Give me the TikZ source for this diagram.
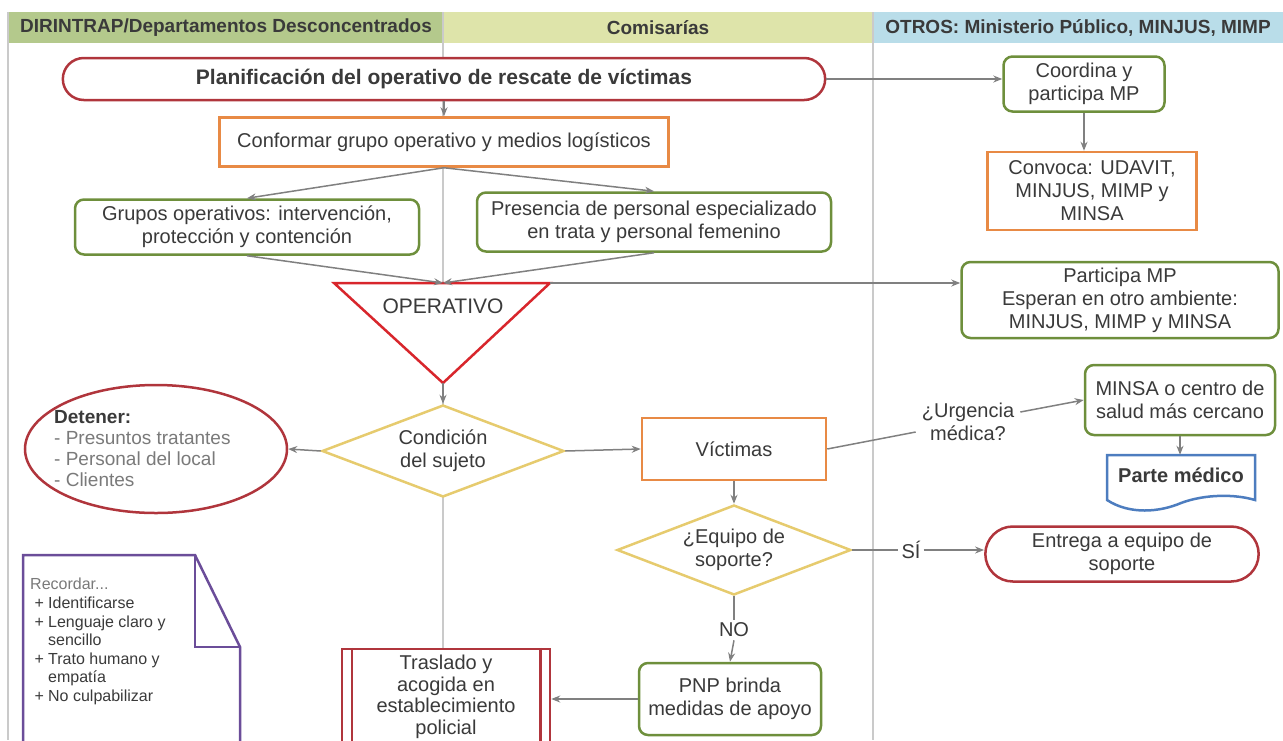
\documentclass[tikz,border=0pt]{standalone}
\usepackage{fontspec}
\setmainfont{Liberation Sans}
\usetikzlibrary{arrows.meta, shapes.geometric, shapes.misc, calc}
\definecolor{txtgrey}{HTML}{3A3A3A}
\definecolor{softgrey}{HTML}{7A7A7A}
\definecolor{linegrey}{HTML}{808080}
\definecolor{lanegrey}{HTML}{CACACA}
\definecolor{hdrgreen}{HTML}{B4C98C}
\definecolor{hdryellow}{HTML}{DEE4AA}
\definecolor{hdrblue}{HTML}{B9DDE9}
\definecolor{darkred}{HTML}{B0353C}
\definecolor{brightred}{HTML}{D8262C}
\definecolor{boxorange}{HTML}{E88A45}
\definecolor{boxgreen}{HTML}{6E8F3C}
\definecolor{dyellow}{HTML}{E6CB6E}
\definecolor{docblue}{HTML}{4D7DBF}
\definecolor{notepurple}{HTML}{6B4D99}
\tikzset{
  every node/.append style={text=txtgrey, font=\fontsize{20}{23}\selectfont, align=center},
  conn/.style={-{Stealth[length=9pt, width=7pt]}, line width=1.5pt, color=linegrey},
  plainconn/.style={line width=1.5pt, color=linegrey},
  lane/.style={line width=1.5pt, color=lanegrey},
  hdr/.style={font=\bfseries\fontsize{19}{22}\selectfont},
  stadium/.style={rounded rectangle, draw=darkred, line width=2.5pt, fill=white},
  orangebox/.style={rectangle, draw=boxorange, line width=2.5pt, fill=white},
  greenbox/.style={rectangle, rounded corners=9pt, draw=boxgreen, line width=2.5pt, fill=white},
  decision/.style={diamond, aspect=2.6, draw=dyellow, line width=2.5pt, fill=white, inner sep=0pt}
}

\begin{document}
\begin{tikzpicture}[x=1pt, y=-1pt]
\useasboundingbox (0,0) rectangle (1283,740);
% lane headers
\fill[hdrgreen] (8,12) rectangle (443,43);
\fill[hdryellow] (443,12) rectangle (873,43);
\fill[hdrblue] (873,12) rectangle (1283,43);
\node[hdr] (hleft) at (226,28) {DIRINTRAP/Departamentos Desconcentrados};
\node[hdr] (hmid) at (658,28) {Comisarías};
\node[hdr] (hright) at (1078,28) {OTROS: Ministerio Público, MINJUS, MIMP};
\draw[lane] (8,12) -- (8,740);
\draw[lane] (443,12) -- (443,740);
\draw[lane] (873,12) -- (873,740);

% top part
\node[stadium, minimum width=769pt, minimum height=42pt, font=\bfseries\fontsize{21}{24}\selectfont] (plan) at (444,79) {Planificación del operativo de rescate de víctimas};
\node[orangebox, minimum width=449pt, minimum height=49pt] (conf) at (444,142) {Conformar grupo operativo y medios logísticos};
\node[greenbox, minimum width=344pt, minimum height=55pt] (grupos) at (247,227) {Grupos operativos: intervención,\\protección y contención};
\node[greenbox, minimum width=354pt, minimum height=59pt] (pres) at (654,222) {Presencia de personal especializado\\en trata y personal femenino};
\node[greenbox, minimum width=161pt, minimum height=55pt] (coord) at (1084,84) {Coordina y\\participa MP};
\node[orangebox, minimum width=209pt, minimum height=78pt] (conv) at (1092,191) {Convoca: UDAVIT,\\MINJUS, MIMP y\\MINSA};
\node[greenbox, minimum width=317pt, minimum height=76pt] (part) at (1120,300) {Participa MP\\Esperan en otro ambiente:\\MINJUS, MIMP y MINSA};

% operativo
\coordinate (opl) at (334,283);
\coordinate (opr) at (550,283);
\coordinate (opt) at (443,283);
\coordinate (opb) at (443,383);
\draw[draw=brightred, line width=2.5pt, fill=white] (opl) -- (opr) -- (opb) -- cycle;
\node[font=\fontsize{21}{24}\selectfont] (optxt) at (443,306) {OPERATIVO};

% middle part
\node[decision, minimum width=242pt, minimum height=92pt] (cond) at (443,451) {Condición\\del sujeto};
\node[ellipse, draw=darkred, line width=2.5pt, fill=white, minimum width=262pt, minimum height=128pt] (det) at (156,449) {};
\node[anchor=west, align=left, inner sep=0pt, font=\fontsize{19}{21}\selectfont, text=softgrey] (dettxt) at (54,449)
  {\textcolor{txtgrey}{\textbf{Detener:}}\\- Presuntos tratantes\\- Personal del local\\- Clientes};
\node[orangebox, minimum width=184pt, minimum height=62pt] (vict) at (734,449) {Víctimas};
\node[inner sep=6pt] (urg) at (968,422) {¿Urgencia\\médica?};
\node[greenbox, minimum width=190pt, minimum height=70pt] (minsa) at (1180,400) {MINSA o centro de\\salud más cercano};
\draw[docblue, line width=2.5pt, fill=white] (1107,455) -- (1255,455) -- (1255,500)
  .. controls (1235,494) and (1205,494) .. (1181,503)
  .. controls (1160,512) and (1130,515) .. (1107,500) -- cycle;
\node[font=\bfseries\fontsize{20}{23}\selectfont, minimum width=148pt, minimum height=40pt, inner sep=0pt] (pm) at (1181,475) {Parte médico};

% bottom part
\node[decision, minimum width=234pt, minimum height=90pt] (equipo) at (734,550) {¿Equipo de\\soporte?};
\node[stadium, minimum width=280pt, minimum height=55pt] (entr) at (1122,554) {Entrega a equipo de\\soporte};
\node[fill=white, inner sep=3pt] (si) at (911,550) {SÍ};
\node[fill=white, inner sep=3pt] (no) at (734,630) {NO};
\node[greenbox, minimum width=182pt, minimum height=72pt] (pnp) at (730,699) {PNP brinda\\medidas de apoyo};
\node[rectangle, draw=darkred, line width=2.5pt, fill=white, minimum width=208pt, minimum height=96pt,
  font=\fontsize{20}{21.5}\selectfont] (tras) at (446,697) {Traslado y\\acogida en\\establecimiento\\policial};
\draw[darkred, line width=2.5pt] ([xshift=11pt]tras.north west) -- ([xshift=11pt]tras.south west);
\draw[darkred, line width=2.5pt] ([xshift=-11pt]tras.north east) -- ([xshift=-11pt]tras.south east);

% note
\draw[notepurple, line width=2.5pt, fill=white] (23,750) -- (23,555) -- (195,555) -- (240,647) -- (240,750);
\draw[notepurple, line width=2.5pt] (195,555) -- (195,647) -- (240,647);
\node[anchor=north west, align=left, inner sep=0pt, font=\fontsize{16}{18.6}\selectfont] (note) at (30,578)
  {\textcolor{softgrey}{Recordar...}\\
   \makebox[18pt][c]{+}Identificarse\\
   \makebox[18pt][c]{+}Lenguaje claro y\\
   \hspace*{18pt}sencillo\\
   \makebox[18pt][c]{+}Trato humano y\\
   \hspace*{18pt}empatía\\
   \makebox[18pt][c]{+}No culpabilizar};

% connectors
\draw[conn] (plan.south) -- (conf.north);
\draw[conn] (conf.south) -- (grupos.north);
\draw[conn] (conf.south) -- (pres.north);
\draw[conn] (grupos.south) -- (opt);
\draw[conn] (pres.south) -- (opt);
\draw[conn] (plan.east) -- (plan.east -| coord.west);
\draw[conn] (coord.south) -- (coord.south |- conv.north);
\draw[conn] (opr) -- (opr -| part.west);
\draw[conn] (opb) -- (cond.north);
\draw[conn] (cond.west) -- (det.east);
\draw[conn] (cond.east) -- (vict.west);
\draw[plainconn] (vict.east) -- ([yshift=-10pt]urg.west);
\draw[conn] ([yshift=10pt]urg.east) -- (minsa.west);
\draw[conn] (minsa.south) -- (minsa.south |- pm.north);
\draw[conn] (vict.south) -- (equipo.north);
\draw[plainconn] (equipo.east) -- (si.west);
\draw[conn] (si.east) -- (si.east -| entr.west);
\draw[plainconn] (equipo.south) -- (no.north);
\draw[conn] (no.south) -- (pnp.north);
\draw[conn] (pnp.west) -- (pnp.west -| tras.east);
\end{tikzpicture}
\end{document}
